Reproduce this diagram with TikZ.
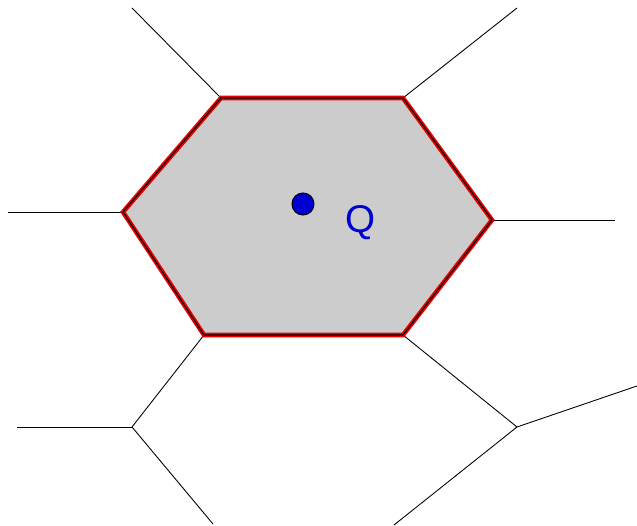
\documentclass[tikz,border=0pt]{standalone}
\usepackage{fontspec}
\setsansfont{Liberation Sans}
\usetikzlibrary{positioning}
\definecolor{cellgray}{RGB}{204,204,204}
\definecolor{rimred}{RGB}{230,0,0}
\definecolor{siteblue}{RGB}{0,0,210}
\tikzset{
  edge/.style={black,line width=0.5pt},
  rim/.style={rimred,line width=2.6pt,line join=miter},
}
\newcommand{\cellQ}{(a) -- (b) -- (c) -- (d) -- (e) -- (f) -- cycle}

\begin{document}
\begin{tikzpicture}[x=0.02cm,y=-0.02cm]
    \useasboundingbox (0,0) rectangle (637,526);
    % vertices of the cell
    \coordinate (a) at (221,98);  \coordinate (b) at (403,98);
    \coordinate (c) at (492,220); \coordinate (d) at (403,335);
    \coordinate (e) at (204,335); \coordinate (f) at (123,212);
    % outer vertices and loose ends
    \coordinate (g) at (132,427); \coordinate (h) at (517,427);
    \coordinate (ta) at (132,8);   \coordinate (tb) at (517,8);
    \coordinate (tf) at (8,212);   \coordinate (tc) at (615,220);
    \coordinate (tg) at (17,427);  \coordinate (tg2) at (213,524);
    \coordinate (th) at (637,386); \coordinate (th2) at (394,525);
    % neighbouring edges
    \draw[edge] (a) -- (ta);  \draw[edge] (b) -- (tb);
    \draw[edge] (f) -- (tf);  \draw[edge] (c) -- (tc);
    \draw[edge] (e) -- (g);   \draw[edge] (g) -- (tg);  \draw[edge] (g) -- (tg2);
    \draw[edge] (d) -- (h);   \draw[edge] (h) -- (th);  \draw[edge] (h) -- (th2);
    % the cell of Q
    \fill[cellgray] \cellQ;
    \draw[rim] \cellQ;
    \draw[black,line width=0.6pt] \cellQ;
    % site
    \node[circle,fill=siteblue,draw=black,line width=0.6pt,minimum size=0.44cm,inner sep=0pt] (site) at (303,204) {};
    \node[siteblue,font=\sffamily\fontsize{22}{24}\selectfont] (q) at (361,223) {Q};
\end{tikzpicture}
\end{document}
